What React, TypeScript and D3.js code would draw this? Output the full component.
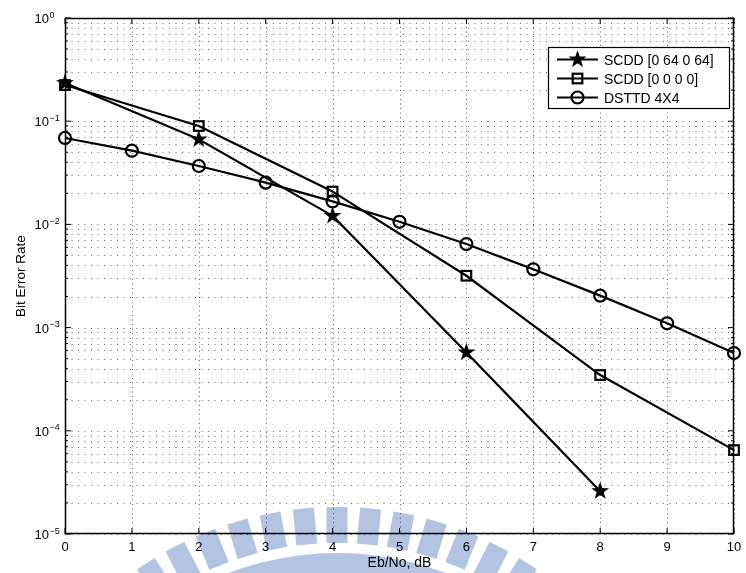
import React from 'react';
import * as d3 from 'd3';

// ---- data ----
const xTicks = [0, 1, 2, 3, 4, 5, 6, 7, 8, 9, 10];
const yExponents = [0, -1, -2, -3, -4, -5];

const scdd64X = [0, 2, 4, 6, 8];
const scdd64Y = [0.234, 0.0667, 0.0121, 0.000575, 0.000026];

const scdd0X = [0, 2, 4, 6, 8, 10];
const scdd0Y = [0.224, 0.0898, 0.0208, 0.00318, 0.000347, 0.000065];

const dsttdX = [0, 1, 2, 3, 4, 5, 6, 7, 8, 9, 10];
const dsttdY = [0.0688, 0.0518, 0.0368, 0.0254, 0.0167, 0.0106, 0.00645, 0.00367, 0.00204, 0.0011, 0.000567];

const legendLabels = ['SCDD [0 64 0 64]', 'SCDD [0 0 0 0]', 'DSTTD 4X4'];
const xLabel = 'Eb/No, dB';
const yLabel = 'Bit Error Rate';

// ---- layout ----
const W = 746;
const H = 573;
const L = 65, R = 734, T = 18, B = 534;
const FONT = '"Liberation Sans", Arial, Helvetica, sans-serif';

const x = d3.scaleLinear().domain([0, 10]).range([L, R]);
const y = d3.scaleLog().domain([1e-5, 1]).range([B, T]);

const minorY: number[] = [];
for (let k = -5; k < 0; k++) for (let m = 2; m <= 9; m++) minorY.push(m * Math.pow(10, k));
const majorY = yExponents.map((e) => Math.pow(10, e));

function starPath(cx: number, cy: number, ro: number, ri: number) {
  const pts: string[] = [];
  for (let i = 0; i < 10; i++) {
    const r = i % 2 === 0 ? ro : ri;
    const a = -Math.PI / 2 + (i * Math.PI) / 5;
    pts.push(`${cx + r * Math.cos(a)},${cy + r * Math.sin(a)}`);
  }
  return 'M' + pts.join('L') + 'Z';
}

function Marker({ kind, cx, cy }: { kind: string; cx: number; cy: number }) {
  if (kind === 'star')
    return <path d={starPath(cx, cy, 7.5, 3.0)} fill="#000" stroke="#000" strokeWidth={1.2} strokeLinejoin="miter" />;
  if (kind === 'square')
    return <rect x={cx - 4.8} y={cy - 4.8} width={9.6} height={9.6} fill="none" stroke="#000" strokeWidth={2.2} />;
  return <circle cx={cx} cy={cy} r={6} fill="none" stroke="#000" strokeWidth={2.2} />;
}

const series = [
  { xs: scdd64X, ys: scdd64Y, kind: 'star' },
  { xs: scdd0X, ys: scdd0Y, kind: 'square' },
  { xs: dsttdX, ys: dsttdY, kind: 'circle' },
];

function Watermark() {
  const cx = 337, cy = 858;
  const teeth: JSX.Element[] = [];
  for (let i = -8; i <= 8; i++) {
    const ang = i * 5.5;
    teeth.push(
      <rect key={i} x={-10.5} y={-351} width={21} height={36} transform={`translate(${cx},${cy}) rotate(${ang})`} />
    );
  }
  const band = d3.arc()({ innerRadius: 250, outerRadius: 305, startAngle: -1.0, endAngle: 1.0 }) as string;
  return (
    <g fill="#b3c3e2" style={{ mixBlendMode: 'multiply' }}>
      {teeth}
      <path d={band} transform={`translate(${cx},${cy})`} />
    </g>
  );
}

export default function App() {
  const line = d3
    .line<[number, number]>()
    .x((d) => x(d[0]))
    .y((d) => y(d[1]));

  return (
    <svg
      width={W}
      height={H}
      viewBox={`0 0 ${W} ${H}`}
      style={{ position: 'absolute', left: 0, top: 0, background: '#fff', display: 'block' }}
      fontFamily={FONT}
    >
      <rect x={0} y={0} width={W} height={H} fill="#fff" />
      <rect x={L} y={T} width={R - L} height={B - T} fill="#fff" />

      {/* grid */}
      <g stroke="#666" strokeWidth={1} fill="none">
        {minorY.concat(majorY).map((v, i) => (
          <line key={'h' + i} x1={L} x2={R} y1={Math.round(y(v)) + 0.5} y2={Math.round(y(v)) + 0.5} strokeDasharray="1 5.5" />
        ))}
        {xTicks.map((v) => (
          <line key={'v' + v} x1={Math.round(x(v)) + 0.5} x2={Math.round(x(v)) + 0.5} y1={T} y2={B} strokeDasharray="1 3.5" />
        ))}
      </g>

      {/* ticks */}
      <g stroke="#000" strokeWidth={1}>
        {xTicks.map((v) => (
          <g key={'xt' + v}>
            <line x1={x(v)} x2={x(v)} y1={B} y2={B - 6} />
            <line x1={x(v)} x2={x(v)} y1={T} y2={T + 6} />
          </g>
        ))}
        {majorY.map((v, i) => (
          <g key={'yt' + i}>
            <line x1={L} x2={L + 6} y1={y(v)} y2={y(v)} />
            <line x1={R} x2={R - 6} y1={y(v)} y2={y(v)} />
          </g>
        ))}
        {minorY.map((v, i) => (
          <g key={'ym' + i}>
            <line x1={L} x2={L + 3} y1={y(v)} y2={y(v)} />
            <line x1={R} x2={R - 3} y1={y(v)} y2={y(v)} />
          </g>
        ))}
      </g>

      {/* series */}
      {series.map((s, si) => (
        <g key={'s' + si}>
          <path
            d={line(s.xs.map((xv, i) => [xv, s.ys[i]] as [number, number])) as string}
            fill="none"
            stroke="#000"
            strokeWidth={2.2}
            strokeLinejoin="round"
          />
          {s.xs.map((xv, i) => (
            <Marker key={i} kind={s.kind} cx={x(xv)} cy={y(s.ys[i])} />
          ))}
        </g>
      ))}

      {/* axes box */}
      <rect x={L + 0.5} y={T + 0.5} width={R - L - 1} height={B - T - 1} fill="none" stroke="#000" strokeWidth={1.5} />

      {/* tick labels */}
      <g fontSize={13} fill="#000">
        {xTicks.map((v) => (
          <text key={'xl' + v} x={x(v)} y={551} textAnchor="middle">
            {v}
          </text>
        ))}
        {yExponents.map((e) => (
          <g key={'yl' + e}>
            <text x={49} y={y(Math.pow(10, e)) + 5} textAnchor="end">
              10
            </text>
            <text x={49.5} y={y(Math.pow(10, e)) - 0.5} fontSize={9}>
              {e === 0 ? '0' : '\u2212' + Math.abs(e)}
            </text>
          </g>
        ))}
      </g>

      {/* axis labels */}
      <text x={(L + R) / 2} y={567} textAnchor="middle" fontSize={14} fill="#000">
        {xLabel}
      </text>
      <text transform={`translate(25,${(T + B) / 2}) rotate(-90)`} textAnchor="middle" fontSize={13.5} fill="#000">
        {yLabel}
      </text>

      {/* legend */}
      <g>
        <rect x={548.5} y={47.5} width={181} height={61} fill="#fff" stroke="#000" strokeWidth={1.2} />
        {legendLabels.map((lab, i) => {
          const ry = 59.5 + i * 19;
          return (
            <g key={'lg' + i}>
              <line x1={557} x2={598} y1={ry} y2={ry} stroke="#000" strokeWidth={2.2} />
              <Marker kind={series[i].kind} cx={577.5} cy={ry} />
              <text x={604} y={ry + 5} fontSize={14} fill="#000">
                {lab}
              </text>
            </g>
          );
        })}
      </g>

      <Watermark />
    </svg>
  );
}
